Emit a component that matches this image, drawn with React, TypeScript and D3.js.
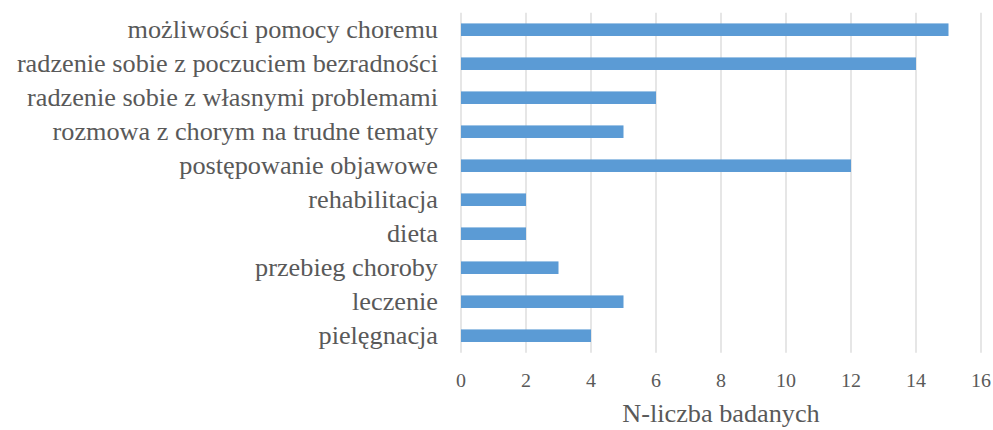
import React from "react";
import * as d3 from "d3";

// data, top to bottom
const categories = [
  "możliwości pomocy choremu",
  "radzenie sobie z poczuciem bezradności",
  "radzenie sobie z własnymi problemami",
  "rozmowa z chorym na trudne tematy",
  "postępowanie objawowe",
  "rehabilitacja",
  "dieta",
  "przebieg choroby",
  "leczenie",
  "pielęgnacja",
];
const values = [15, 14, 6, 5, 12, 2, 2, 3, 5, 4];
const xTicks = [0, 2, 4, 6, 8, 10, 12, 14, 16];
const xTitle = "N-liczba badanych";

const W = 993;
const H = 430;
const textColor = "#595959";
const barColor = "#5b9bd5";
const gridColor = "#d9d9d9";
const font = "Liberation Serif";
const stretch = 1.05;

const x = d3.scaleLinear().domain([0, 16]).range([461, 981]);
const y = d3.scaleBand().domain(categories).range([12.7, 352.7]).paddingInner(0.63).paddingOuter(0.315);

export default function App() {
  const [y0, y1] = y.range();
  return (
    <svg
      width={W}
      height={H}
      style={{ position: "absolute", left: 0, top: 0, background: "#fff" }}
    >
      {/* grid */}
      <g>
        {xTicks.map(t => (
          <line key={t} x1={x(t)} x2={x(t)} y1={y0} y2={y1} stroke={gridColor} strokeWidth={1.3} />
        ))}
      </g>

      {/* bars */}
      <g>
        {values.map((v, i) => (
          <rect
            key={categories[i]}
            x={x(0)}
            y={y(categories[i])}
            width={x(v) - x(0)}
            height={y.bandwidth()}
            fill={barColor}
          />
        ))}
      </g>

      {/* category labels */}
      <g style={{ fontFamily: font, fontSize: 25 }} fill={textColor}>
        {categories.map(c => (
          <text
            key={c}
            transform={`translate(438, ${(y(c) as number) + y.bandwidth() / 2}) scale(${stretch}, 1)`}
            dy="0.32em"
            textAnchor="end"
          >
            {c}
          </text>
        ))}
      </g>

      {/* x tick labels */}
      <g style={{ fontFamily: font, fontSize: 19 }} fill={textColor}>
        {xTicks.map(t => (
          <text key={t} transform={`translate(${x(t)}, 387) scale(${stretch}, 1)`} textAnchor="middle">
            {t}
          </text>
        ))}
      </g>

      {/* axis title */}
      <text
        transform={`translate(${(x(0) + x(16)) / 2}, 422) scale(${stretch}, 1)`}
        textAnchor="middle"
        style={{ fontFamily: font, fontSize: 25 }}
        fill={textColor}
      >
        {xTitle}
      </text>
    </svg>
  );
}
